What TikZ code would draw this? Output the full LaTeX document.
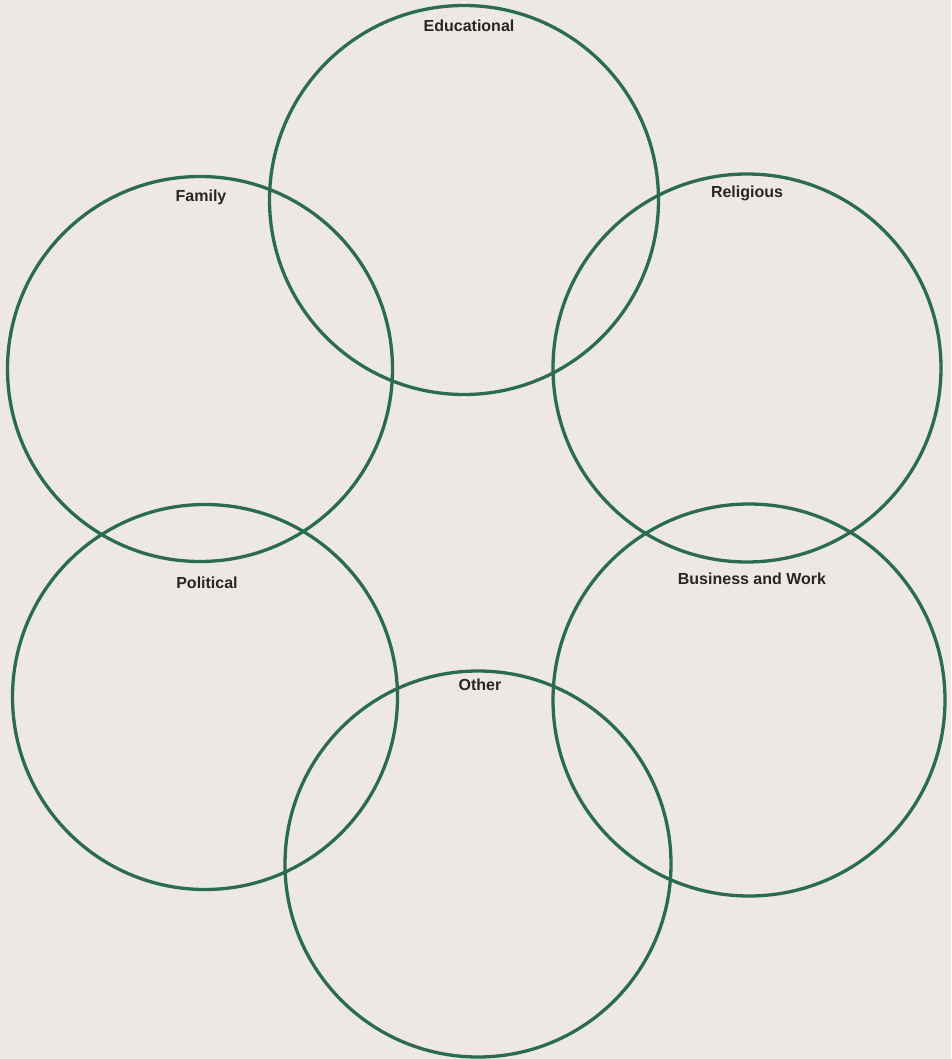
\documentclass[tikz,border=0pt]{standalone}
\usepackage{fontspec}
\setmainfont{Liberation Sans}
\begin{document}
\begin{tikzpicture}[x=1pt,y=-1pt,
  ring/.style={circle, draw=ringgreen, line width=3.3pt, inner sep=0pt, minimum size=#1},
  lab/.style={font=\fontsize{16}{19}\selectfont\bfseries, text=labgray, inner sep=0pt}]
\definecolor{ringgreen}{RGB}{44,108,78}
\definecolor{labgray}{RGB}{38,38,38}
\definecolor{paper}{RGB}{237,232,228}
\fill[paper] (0,0) rectangle (951,1059);
\useasboundingbox (0,0) rectangle (951,1059);
\node[ring=389pt] (edu) at (464,200) {};
\node[ring=385pt] (fam) at (200,369) {};
\node[ring=388pt] (rel) at (747,368) {};
\node[ring=385pt] (pol) at (205,697) {};
\node[ring=392pt] (bus) at (749,700) {};
\node[ring=386pt] (oth) at (478,864) {};
\node[lab] (leduc) at (469,26) {Educational};
\node[lab] (lfam) at (201,197) {Family};
\node[lab] (lrel) at (747,193) {Religious};
\node[lab] (lpol) at (207,583) {Political};
\node[lab] (lbus) at (752,579) {Business and Work};
\node[lab] (loth) at (480,685) {Other};
\end{tikzpicture}
\end{document}
